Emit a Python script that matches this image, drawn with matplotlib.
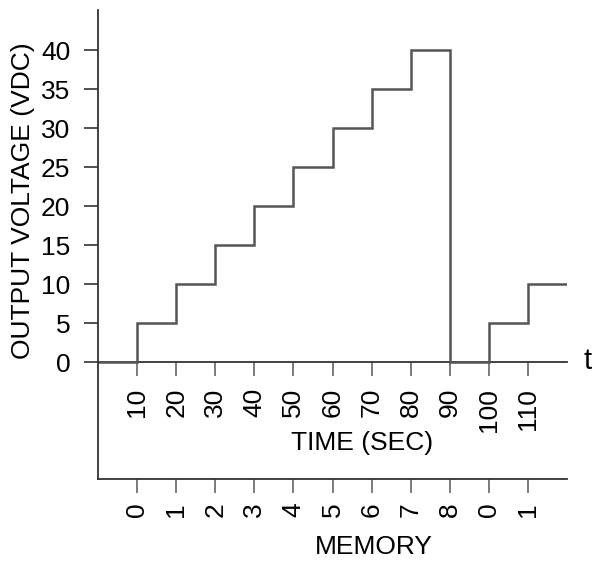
import matplotlib
matplotlib.use("Agg")
import matplotlib.pyplot as plt

plt.rcParams['font.family'] = ['Liberation Sans', 'DejaVu Sans']

# Data
edges = [0, 10, 20, 30, 40, 50, 60, 70, 80, 90, 100, 110, 120]
voltage = [0, 5, 10, 15, 20, 25, 30, 35, 40, 0, 5, 10]
time_ticks = [10, 20, 30, 40, 50, 60, 70, 80, 90, 100, 110]
time_labels = ['10', '20', '30', '40', '50', '60', '70', '80', '90', '100', '110']
memory_labels = ['0', '1', '2', '3', '4', '5', '6', '7', '8', '0', '1']
volt_ticks = [0, 5, 10, 15, 20, 25, 30, 35, 40]

W, H = 593, 561
fig = plt.figure(figsize=(W / 100, H / 100), dpi=100)
ax = fig.add_axes([98 / W, 82 / H, (567 - 98) / W, 469 / H])

axis_col = '#333333'
line_col = '#555555'
tick_fs = 19
label_fs = 19

ax.stairs(voltage, edges, baseline=None, color=line_col, linewidth=1.8)

ax.set_xlim(0, 120)
ax.set_ylim(-15.0, 45.13)

for s in ['top', 'right']:
    ax.spines[s].set_visible(False)
for s in ['left', 'bottom']:
    ax.spines[s].set_color(axis_col)
    ax.spines[s].set_linewidth(1.3)

ax.set_yticks(volt_ticks)
ax.set_yticklabels([str(v) for v in volt_ticks], fontsize=tick_fs)
ax.tick_params(axis='y', length=10, width=1.2, color=axis_col, pad=10,
               labelsize=tick_fs, labelcolor='black')

# bottom axis: memory
ax.set_xticks(time_ticks)
ax.set_xticklabels(memory_labels, rotation=90, fontsize=tick_fs)
ax.tick_params(axis='x', length=10, width=1.2, color='#666666', pad=7,
               labelsize=tick_fs, labelcolor='black')

# time axis at y = 0
sec = ax.secondary_xaxis(0, transform=ax.transData)
sec.spines['bottom'].set_color(axis_col)
sec.spines['bottom'].set_linewidth(1.3)
sec.set_xticks(time_ticks)
sec.set_xticklabels(time_labels, rotation=90, fontsize=tick_fs)
sec.tick_params(axis='x', length=10, width=1.2, color='#666666', pad=8.5,
                labelsize=tick_fs, labelcolor='black')

ax.text(-0.16, 0.594, 'OUTPUT VOLTAGE (VDC)', fontsize=label_fs, rotation=90,
        ha='center', va='center', transform=ax.transAxes)

ax.text(67.6, -10.4, 'TIME (SEC)', fontsize=label_fs, ha='center', va='center')
ax.text(70.5, -23.7, 'MEMORY', fontsize=label_fs, ha='center', va='center', clip_on=False)
ax.text(125.2, 0.1, 't', fontsize=label_fs + 2, ha='center', va='center', clip_on=False)

fig.savefig('out.png', dpi=100)
